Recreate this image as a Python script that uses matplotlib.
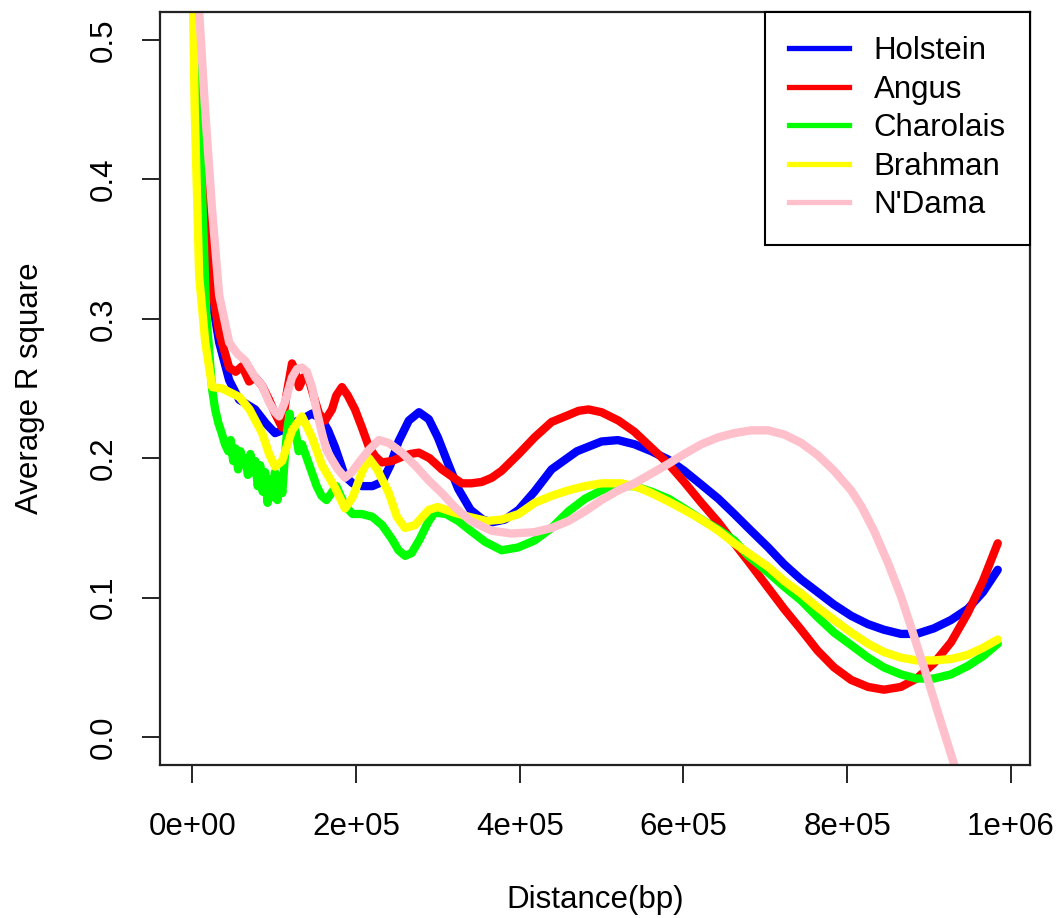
import matplotlib
matplotlib.use('Agg')
import matplotlib.pyplot as plt
from matplotlib.lines import Line2D
import numpy as np

plt.rcParams['font.family'] = ['Liberation Sans', 'DejaVu Sans']

# ---------------- data ----------------
breeds = ["Holstein", "Angus", "Charolais", "Brahman", "N'Dama"]
colors = ["#0000FF", "#FF0000", "#00FF00", "#FFFF00", "#FFC0CB"]

holstein_x = [0, 8500, 17000, 24400, 32900, 45100, 57300, 76800, 90000, 101200,
              109800, 121900, 134100, 146300, 158000, 166000, 174400, 186600, 196000,
              207300, 220000, 232000, 242000, 252000, 264600, 277000, 289000, 300000,
              312000, 325000, 340000, 355000, 366000, 382000, 398800, 418000, 439000,
              470000, 500000, 520000, 540200, 561000, 581700, 601000, 622000, 642700,
              662200, 679300, 703700, 723000, 743900, 764000, 784100, 805000, 825600,
              845000, 865800, 885000, 906100, 927000, 947500, 966000, 984100]
holstein_y = [0.80, 0.47, 0.37, 0.313, 0.283, 0.256, 0.242, 0.235, 0.225, 0.218,
              0.220, 0.225, 0.228, 0.232, 0.228, 0.220, 0.208, 0.187, 0.182,
              0.180, 0.180, 0.183, 0.195, 0.212, 0.227, 0.233, 0.228, 0.215,
              0.197, 0.178, 0.163, 0.156, 0.154, 0.156, 0.163, 0.176, 0.192,
              0.205, 0.212, 0.213, 0.210, 0.205, 0.199, 0.191, 0.181, 0.171,
              0.160, 0.150, 0.136, 0.124, 0.113, 0.104, 0.095, 0.087, 0.081,
              0.077, 0.074, 0.074, 0.078, 0.084, 0.092, 0.104, 0.120]

angus_x = [0, 8500, 20700, 32900, 45100, 53000, 61000, 69500, 76800, 85400, 93900,
           101200, 109800, 115000, 121900, 126000, 130500, 136000, 142700, 148000,
           154900, 162200, 170700, 176000, 182900, 190000, 198800, 207300, 215900,
           224000, 231700, 244000, 256100, 266000, 276800, 290000, 304900, 317000,
           329300, 341000, 353700, 366000, 378000, 398800, 418300, 439000, 459800,
           472000, 484100, 500000, 520700, 540200, 560000, 581700, 601000, 622000,
           642700, 662200, 679300, 703700, 723000, 743900, 764000, 784100, 805000,
           825600, 845000, 865800, 885000, 906100, 927000, 947500, 966000, 984100]
angus_y = [0.80, 0.48, 0.334, 0.290, 0.265, 0.262, 0.266, 0.255, 0.258, 0.252, 0.242,
           0.232, 0.222, 0.245, 0.268, 0.262, 0.251, 0.258, 0.256, 0.245,
           0.232, 0.227, 0.235, 0.245, 0.251, 0.245, 0.235, 0.222, 0.208,
           0.201, 0.197, 0.198, 0.201, 0.203, 0.204, 0.200, 0.192, 0.187,
           0.182, 0.182, 0.183, 0.186, 0.191, 0.203, 0.215, 0.226, 0.231,
           0.234, 0.235, 0.233, 0.227, 0.219, 0.208, 0.196, 0.183, 0.168,
           0.154, 0.139, 0.126, 0.107, 0.092, 0.077, 0.062, 0.050, 0.041,
           0.036, 0.034, 0.036, 0.042, 0.053, 0.068, 0.089, 0.112, 0.139]

charolais_x = [0, 8500, 17000, 24400, 28000, 32000, 36000, 40000, 44000, 47000, 50000,
               53000, 56000, 59000, 62000, 65000, 68000, 71000, 74000, 77000, 80000,
               83000, 86000, 89000, 92000, 95000, 98000, 101000, 104000, 107000,
               110000, 113000, 116000, 119000, 122000, 126000, 130000, 134000, 140000,
               146000, 152000, 158000, 164000, 170000, 176000, 182000, 188000, 196000,
               207000, 220000, 232000, 244000, 252000, 260000, 268000, 278000, 288000,
               296000, 310000, 325000, 340000, 358000, 378000, 398000, 418300, 439000,
               459800, 480000, 500000, 520000, 540200, 561000, 581700, 601000, 622000,
               642700, 662200, 679300, 703700, 723000, 743900, 764000, 784100, 805000,
               825600, 845000, 865800, 885000, 906100, 927000, 947500, 966000, 984100]
charolais_y = [0.80, 0.45, 0.305, 0.249, 0.235, 0.225, 0.218, 0.210, 0.205, 0.213, 0.198,
               0.207, 0.192, 0.205, 0.196, 0.200, 0.188, 0.203, 0.190, 0.198, 0.180,
               0.195, 0.176, 0.190, 0.168, 0.185, 0.172, 0.190, 0.170, 0.187,
               0.175, 0.200, 0.220, 0.232, 0.215, 0.220, 0.205, 0.210, 0.200,
               0.190, 0.180, 0.173, 0.170, 0.175, 0.180, 0.172, 0.165, 0.160,
               0.160, 0.158, 0.152, 0.142, 0.134, 0.130, 0.132, 0.142, 0.154,
               0.161, 0.160, 0.155, 0.148, 0.140, 0.134, 0.136, 0.141, 0.150,
               0.162, 0.171, 0.177, 0.180, 0.180, 0.176, 0.171, 0.164, 0.156,
               0.149, 0.141, 0.130, 0.118, 0.108, 0.098, 0.086, 0.075, 0.066,
               0.057, 0.050, 0.045, 0.042, 0.042, 0.045, 0.051, 0.058, 0.067]

brahman_x = [0, 3000, 8500, 15900, 24400, 36600, 57300, 70000, 85400, 93900, 101200,
             109800, 121900, 134100, 146300, 158500, 174400, 186600, 196000, 207300,
             215900, 226000, 240200, 250000, 259800, 272000, 289000, 300000, 320000,
             337800, 360000, 378000, 398800, 418300, 439000, 459800, 480000, 500000,
             524400, 545000, 561000, 581700, 601000, 622000, 642700, 662200, 679300,
             703700, 723000, 743900, 764000, 784100, 805000, 825600, 845000, 865800,
             885000, 906100, 927000, 947500, 966000, 984100]
brahman_y = [0.56, 0.45, 0.33, 0.283, 0.251, 0.250, 0.244, 0.235, 0.218, 0.203, 0.194,
             0.198, 0.220, 0.230, 0.215, 0.195, 0.179, 0.164, 0.172, 0.190,
             0.200, 0.192, 0.175, 0.158, 0.150, 0.152, 0.163, 0.165, 0.161,
             0.158, 0.155, 0.156, 0.160, 0.168, 0.173, 0.177, 0.180, 0.182,
             0.182, 0.179, 0.175, 0.169, 0.163, 0.156, 0.148, 0.139, 0.132,
             0.122, 0.112, 0.103, 0.093, 0.084, 0.075, 0.067, 0.061, 0.057,
             0.055, 0.055, 0.056, 0.059, 0.064, 0.070]

ndama_x = [3000, 8500, 15900, 24400, 32900, 45100, 55000, 64600, 76800, 85400, 93900,
           101200, 106100, 113000, 121900, 128000, 134100, 140000, 146300, 152000,
           158500, 164000, 170700, 178000, 186600, 195000, 203700, 215900, 228000,
           240000, 256100, 272000, 289000, 304900, 320700, 340000, 365900, 390000,
           418300, 439000, 459800, 480000, 500000, 520700, 540200, 561000, 581700,
           601000, 622000, 642700, 662200, 682900, 703700, 723200, 743900, 764600,
           784100, 804900, 818000, 832900, 850000, 865800, 882000, 898800, 914000,
           930500, 957000, 984100]
ndama_y = [0.62, 0.52, 0.448, 0.377, 0.317, 0.283, 0.275, 0.270, 0.258, 0.252, 0.240,
           0.233, 0.230, 0.240, 0.258, 0.264, 0.265, 0.262, 0.251, 0.234,
           0.218, 0.206, 0.199, 0.192, 0.186, 0.190, 0.197, 0.206, 0.213,
           0.211, 0.204, 0.195, 0.184, 0.175, 0.165, 0.155, 0.148, 0.146,
           0.147, 0.150, 0.155, 0.162, 0.170, 0.177, 0.182, 0.189, 0.196,
           0.203, 0.210, 0.215, 0.218, 0.220, 0.220, 0.217, 0.211, 0.202,
           0.191, 0.177, 0.165, 0.148, 0.125, 0.101, 0.072, 0.041, 0.012,
           -0.019, -0.075, -0.135]

x_ticks = [0, 200000, 400000, 600000, 800000, 1000000]
x_tick_labels = ["0e+00", "2e+05", "4e+05", "6e+05", "8e+05", "1e+06"]
y_ticks = [0.0, 0.1, 0.2, 0.3, 0.4, 0.5]
y_tick_labels = ["0.0", "0.1", "0.2", "0.3", "0.4", "0.5"]

series_x = [holstein_x, angus_x, charolais_x, brahman_x, ndama_x]
series_y = [holstein_y, angus_y, charolais_y, brahman_y, ndama_y]

# ---------------- figure ----------------
W, H = 1058, 918
fig = plt.figure(figsize=(W / 100, H / 100), dpi=100)
ax = fig.add_axes([160 / W, 1 - 765 / H, 870 / W, 753 / H])

for xs, ys, c in zip(series_x, series_y, colors):
    ax.plot(np.array(xs), np.array(ys), color=c, lw=6.0, solid_capstyle='round',
            solid_joinstyle='round')

ax.set_xlim(-39400, 1023500)
ax.set_ylim(-0.02, 0.52)

ax.set_xticks(x_ticks)
ax.set_xticklabels(x_tick_labels)
ax.set_yticks(y_ticks)
ax.set_yticklabels(y_tick_labels, rotation=90, va='center')

ax.tick_params(axis='both', direction='out', length=13, width=1.2,
               labelsize=22.5, colors='black')
ax.tick_params(axis='x', pad=21)
ax.tick_params(axis='y', pad=17)

for s in ax.spines.values():
    s.set_linewidth(1.6)
    s.set_color('#222222')

ax.set_xlabel("Distance(bp)", fontsize=22.5)
ax.set_ylabel("Average R square", fontsize=22.5)
ax.xaxis.set_label_coords(0.5, (765 - 900) / 753)
ax.xaxis.label.set_va('center')
ax.yaxis.set_label_coords((30 - 160) / 870, 0.5)
ax.yaxis.label.set_va('center')

handles = [Line2D([0], [0], color=c, lw=3.8) for c in colors]
leg = ax.legend(handles, breeds, loc='upper right', bbox_to_anchor=(1, 1),
                borderaxespad=0, frameon=True, fancybox=False, framealpha=1,
                edgecolor='black', fontsize=22.5, handlelength=1.9,
                handletextpad=0.8, labelspacing=0.27, borderpad=0.78)
leg.get_frame().set_linewidth(1.5)

fig.savefig('out.png', dpi=100)
